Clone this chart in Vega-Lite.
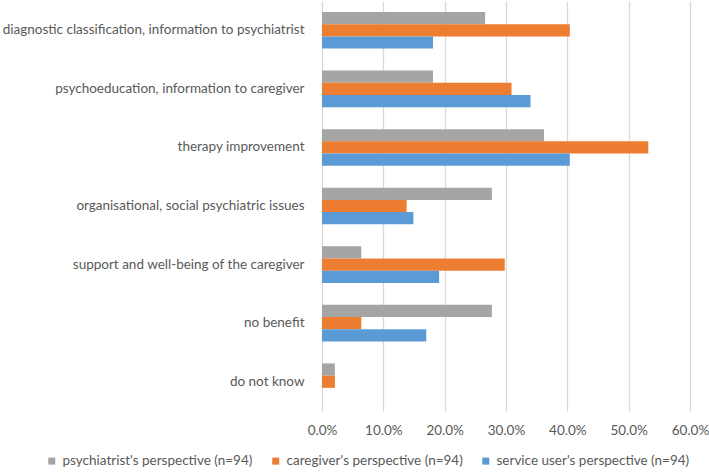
{
  "$schema": "https://vega.github.io/schema/vega-lite/v6.json",
  "width": 368,
  "height": 410,
  "autosize": {"type": "none"},
  "padding": {"left": 322, "top": 1, "right": 19, "bottom": 61},
  "background": "white",
  "config": {
    "view": {"stroke": null},
    "font": "Lato",
    "axis": {"labelFont": "Lato", "labelColor": "#595959", "labelFontSize": 13.5},
    "legend": {"labelFont": "Lato", "labelColor": "#595959", "labelFontSize": 13.5}
  },
  "data": {
    "values": [
      {"category": "diagnostic classification, information to psychiatrist", "series": "psychiatrist's perspective (n=94)", "value": 0.266},
      {"category": "diagnostic classification, information to psychiatrist", "series": "caregiver's perspective (n=94)", "value": 0.404},
      {"category": "diagnostic classification, information to psychiatrist", "series": "service user's perspective (n=94)", "value": 0.181},
      {"category": "psychoeducation, information to caregiver", "series": "psychiatrist's perspective (n=94)", "value": 0.181},
      {"category": "psychoeducation, information to caregiver", "series": "caregiver's perspective (n=94)", "value": 0.309},
      {"category": "psychoeducation, information to caregiver", "series": "service user's perspective (n=94)", "value": 0.340},
      {"category": "therapy improvement", "series": "psychiatrist's perspective (n=94)", "value": 0.362},
      {"category": "therapy improvement", "series": "caregiver's perspective (n=94)", "value": 0.532},
      {"category": "therapy improvement", "series": "service user's perspective (n=94)", "value": 0.404},
      {"category": "organisational, social psychiatric issues", "series": "psychiatrist's perspective (n=94)", "value": 0.277},
      {"category": "organisational, social psychiatric issues", "series": "caregiver's perspective (n=94)", "value": 0.138},
      {"category": "organisational, social psychiatric issues", "series": "service user's perspective (n=94)", "value": 0.149},
      {"category": "support and well-being of the caregiver", "series": "psychiatrist's perspective (n=94)", "value": 0.064},
      {"category": "support and well-being of the caregiver", "series": "caregiver's perspective (n=94)", "value": 0.298},
      {"category": "support and well-being of the caregiver", "series": "service user's perspective (n=94)", "value": 0.191},
      {"category": "no benefit", "series": "psychiatrist's perspective (n=94)", "value": 0.277},
      {"category": "no benefit", "series": "caregiver's perspective (n=94)", "value": 0.064},
      {"category": "no benefit", "series": "service user's perspective (n=94)", "value": 0.170},
      {"category": "do not know", "series": "psychiatrist's perspective (n=94)", "value": 0.021},
      {"category": "do not know", "series": "caregiver's perspective (n=94)", "value": 0.021},
      {"category": "do not know", "series": "service user's perspective (n=94)", "value": 0.0}
    ]
  },
  "mark": {"type": "bar"},
  "encoding": {
    "y": {
      "field": "category",
      "type": "nominal",
      "sort": null,
      "scale": {"paddingInner": 0.375, "paddingOuter": 0.1875},
      "axis": {"title": null, "ticks": false, "tickSize": 0, "domain": false, "labelPadding": 18, "labelLimit": 330}
    },
    "yOffset": {
      "field": "series",
      "type": "nominal",
      "sort": ["psychiatrist's perspective (n=94)", "caregiver's perspective (n=94)", "service user's perspective (n=94)"],
      "scale": {"paddingInner": 0, "paddingOuter": 0}
    },
    "x": {
      "field": "value",
      "type": "quantitative",
      "scale": {"domain": [0, 0.6], "nice": false},
      "axis": {"title": null, "format": ".1%", "values": [0, 0.1, 0.2, 0.3, 0.4, 0.5, 0.6], "ticks": false, "tickSize": 0, "domain": false, "grid": true, "gridColor": "#d9d9d9", "gridWidth": 1.3, "labelPadding": 12, "labelFlush": false}
    },
    "color": {
      "field": "series",
      "type": "nominal",
      "sort": ["psychiatrist's perspective (n=94)", "caregiver's perspective (n=94)", "service user's perspective (n=94)"],
      "scale": {"domain": ["psychiatrist's perspective (n=94)", "caregiver's perspective (n=94)", "service user's perspective (n=94)"], "range": ["#A5A5A5", "#ED7D31", "#5B9BD5"]},
      "legend": {"title": null, "orient": "none", "direction": "horizontal", "legendX": -277, "legendY": 453, "symbolType": "square", "symbolSize": 49, "symbolStrokeWidth": 0, "columnPadding": 16, "gridAlign": "each", "labelOffset": 4, "labelLimit": 0}
    }
  }
}
